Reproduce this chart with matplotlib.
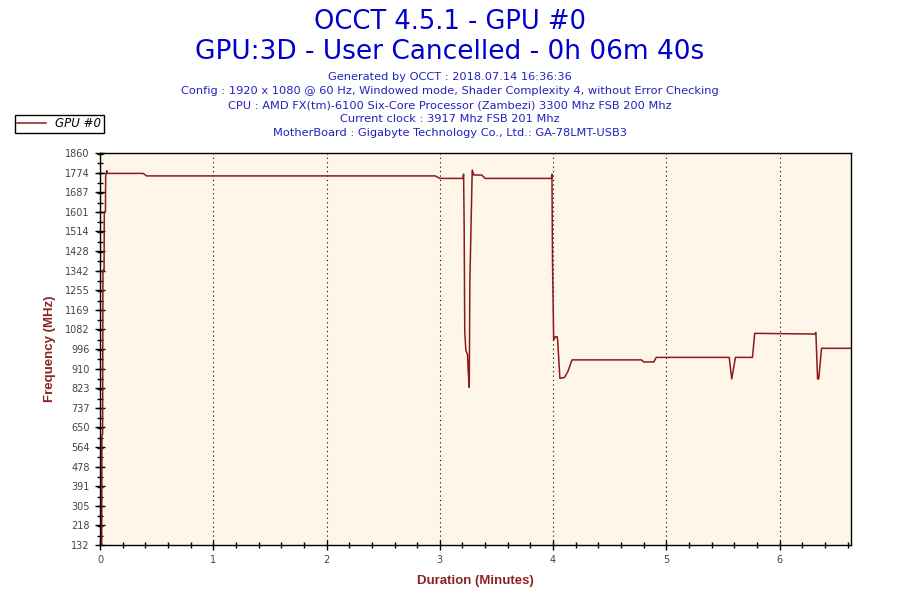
import numpy as np
import matplotlib.pyplot as plt
from matplotlib.ticker import FixedLocator, MultipleLocator

# GPU #0 core clock (minutes, MHz)
minutes = [0.015, 0.017, 0.023, 0.026, 0.036, 0.038, 0.048, 0.050, 0.059, 0.065,
           0.382, 0.41, 2.96, 3.00, 3.205, 3.21, 3.215, 3.22, 3.23, 3.235,
           3.245, 3.25, 3.26, 3.265, 3.286, 3.30, 3.37, 3.40, 3.985, 3.99,
           3.995, 4.005, 4.02, 4.035, 4.04, 4.06, 4.10, 4.13, 4.167, 4.78,
           4.80, 4.89, 4.91, 5.555, 5.577, 5.61, 5.76, 5.78, 6.31, 6.32,
           6.335, 6.345, 6.37, 6.63]
freq = [132, 617, 620, 1344, 1342, 1601, 1601, 1756, 1782, 1770,
        1770, 1759, 1759, 1748, 1748, 1767, 1528, 1072, 990, 984,
        970, 904, 827, 1287, 1785, 1763, 1763, 1748, 1748, 1767,
        1375, 1036, 1050, 1050, 1036, 867, 870, 896, 948, 948,
        939, 939, 959, 959, 864, 959, 959, 1065, 1062, 1068,
        864, 864, 999, 999]

y_ticks = [132, 218.4, 304.8, 391.2, 477.6, 564, 650.4, 736.8, 823.2, 909.6, 996,
           1082.4, 1168.8, 1255.2, 1341.6, 1428, 1514.4, 1600.8, 1687.2, 1773.6, 1860]
y_labels = ['132', '218', '305', '391', '478', '564', '650', '737', '823', '910', '996',
            '1082', '1169', '1255', '1342', '1428', '1514', '1601', '1687', '1774', '1860']

title = 'OCCT 4.5.1 - GPU #0'
subtitle = 'GPU:3D - User Cancelled - 0h 06m 40s'
info = ['Generated by OCCT : 2018.07.14 16:36:36',
        'Config : 1920 x 1080 @ 60 Hz, Windowed mode, Shader Complexity 4, without Error Checking',
        'CPU : AMD FX(tm)-6100 Six-Core Processor (Zambezi) 3300 Mhz FSB 200 Mhz',
        'Current clock : 3917 Mhz FSB 201 Mhz',
        'MotherBoard : Gigabyte Technology Co., Ltd.: GA-78LMT-USB3']

line_col = '#8b1a1a'
label_col = '#8b2323'

fig = plt.figure(figsize=(9, 6), dpi=100)
ax = fig.add_axes([100/900, 55/600, 751/900, 392/600])
ax.set_facecolor('#fef7e9')

ax.plot(minutes, freq, color=line_col, lw=1.1, label='GPU #0')

ax.set_xlim(0, 6.63)
ax.set_ylim(132, 1860)
ax.yaxis.set_major_locator(FixedLocator(y_ticks))
ax.set_yticklabels(y_labels)
ax.yaxis.set_minor_locator(MultipleLocator(43.2))
ax.xaxis.set_major_locator(MultipleLocator(1))
ax.xaxis.set_minor_locator(MultipleLocator(0.2))
ax.tick_params(which='both', direction='inout', color='black', width=1)
ax.tick_params(which='major', length=7, labelsize=7, labelcolor='#444444', pad=4)
ax.tick_params(which='minor', length=5)
ax.grid(axis='x', which='major', color='black', ls=(0, (1, 3)), lw=0.8)
for s in ax.spines.values():
    s.set_color('black')
    s.set_linewidth(1)

lab_font = {'family': 'Liberation Sans', 'size': 9.5, 'weight': 'bold'}
ax.set_xlabel('Duration (Minutes)', color=label_col, fontdict=lab_font, labelpad=7)
ax.set_ylabel('Frequency (MHz)', color=label_col, fontdict=lab_font)
ax.yaxis.set_label_coords(-44/751, 0.5)

fig.text(0.5, 1 - 22/600, title, ha='center', va='center', fontsize=18.5, color='#0000cc')
fig.text(0.5, 1 - 52/600, subtitle, ha='center', va='center', fontsize=19, color='#0000cc')
for i, line in enumerate(info):
    fig.text(0.5, 1 - (77 + i * 14)/600, line, ha='center', va='center', fontsize=8.2, color='#2222bb')

fig.legend(loc='upper left', bbox_to_anchor=(15/900, 1 - 115/600), fancybox=False,
           edgecolor='black', framealpha=1, handlelength=2.4, borderpad=0.2,
           prop={'size': 8.5, 'style': 'italic'}, borderaxespad=0)

fig.savefig('out.png', dpi=100)
